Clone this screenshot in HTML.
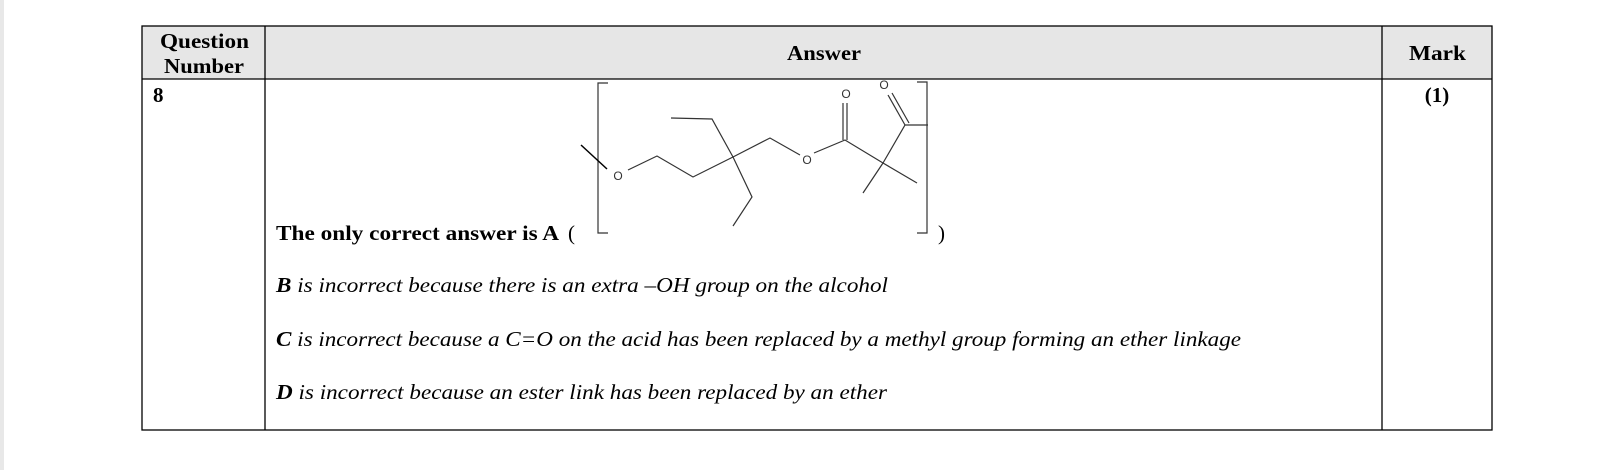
<!DOCTYPE html>
<html><head><meta charset="utf-8"><style>
html,body{margin:0;padding:0;background:#fff;width:1624px;height:470px;overflow:hidden}
svg{display:block}
</style></head><body>
<svg width="1624" height="470" viewBox="0 0 1624 470" xmlns="http://www.w3.org/2000/svg" font-family="'Liberation Serif','Times New Roman','DejaVu Serif',serif">
<rect x="0" y="0" width="4" height="470" fill="#e8e8e8"/>
<rect x="142" y="26" width="1350" height="53" fill="#e6e6e6"/>
<g stroke="#000" stroke-width="1.3" fill="none">
<rect x="142" y="26" width="1350" height="404"/>
<line x1="142" y1="79" x2="1492" y2="79"/>
<line x1="265" y1="26" x2="265" y2="430"/>
<line x1="1382" y1="26" x2="1382" y2="430"/>
</g>
<g font-weight="bold" font-size="21">
<text x="160" y="48" textLength="89" lengthAdjust="spacingAndGlyphs">Question</text>
<text x="164" y="73" textLength="80" lengthAdjust="spacingAndGlyphs">Number</text>
<text x="787" y="60" textLength="74" lengthAdjust="spacingAndGlyphs">Answer</text>
<text x="1409" y="60" textLength="57" lengthAdjust="spacingAndGlyphs">Mark</text>
<text x="153" y="102">8</text>
<text x="1437" y="102" text-anchor="middle">(1)</text>
<text x="276" y="240" textLength="283" lengthAdjust="spacingAndGlyphs">The only correct answer is A</text>
<text x="568" y="240" font-weight="normal">(</text>
</g>
<text x="938" y="240" font-size="21">)</text>

<g stroke="#333" stroke-width="1.2" fill="none">
<polyline points="608,83 598,83 598,233 608,233"/>
<polyline points="917,82 927,82 927,233 917,233"/>
<line x1="581" y1="145" x2="607" y2="169" stroke="#000" stroke-width="1.5"/>
<polyline points="628,170 657,156 693,177 733,157"/>
<polyline points="671,118 712,119 733,157 752,197 733,226"/>
<polyline points="733,157 770,138 800,155"/>
<polyline points="814,153 845,140 883,163"/>
<line x1="843" y1="140" x2="843" y2="103"/>
<line x1="847" y1="140" x2="847" y2="103"/>
<line x1="883" y1="163" x2="863" y2="193"/>
<line x1="883" y1="163" x2="917" y2="183"/>
<line x1="883" y1="163" x2="905" y2="125"/>
<line x1="905" y1="125" x2="888" y2="95"/>
<line x1="909" y1="123" x2="892" y2="93"/>
<line x1="905" y1="125" x2="928" y2="125"/>
</g>
<g font-family="'Liberation Sans',sans-serif" font-size="12" fill="#333" text-anchor="middle">
<text x="618" y="180">O</text>
<text x="807" y="164">O</text>
<text x="846" y="98">O</text>
<text x="884" y="89">O</text>
</g>

<g font-style="italic" font-size="21">
<text x="276" y="292" textLength="612" lengthAdjust="spacingAndGlyphs"><tspan font-weight="bold">B</tspan> is incorrect because there is an extra –OH group on the alcohol</text>
<text x="276" y="346" textLength="965" lengthAdjust="spacingAndGlyphs"><tspan font-weight="bold">C</tspan> is incorrect because a C=O on the acid has been replaced by a methyl group forming an ether linkage</text>
<text x="276" y="399" textLength="611" lengthAdjust="spacingAndGlyphs"><tspan font-weight="bold">D</tspan> is incorrect because an ester link has been replaced by an ether</text>
</g>
</svg>
</body></html>
